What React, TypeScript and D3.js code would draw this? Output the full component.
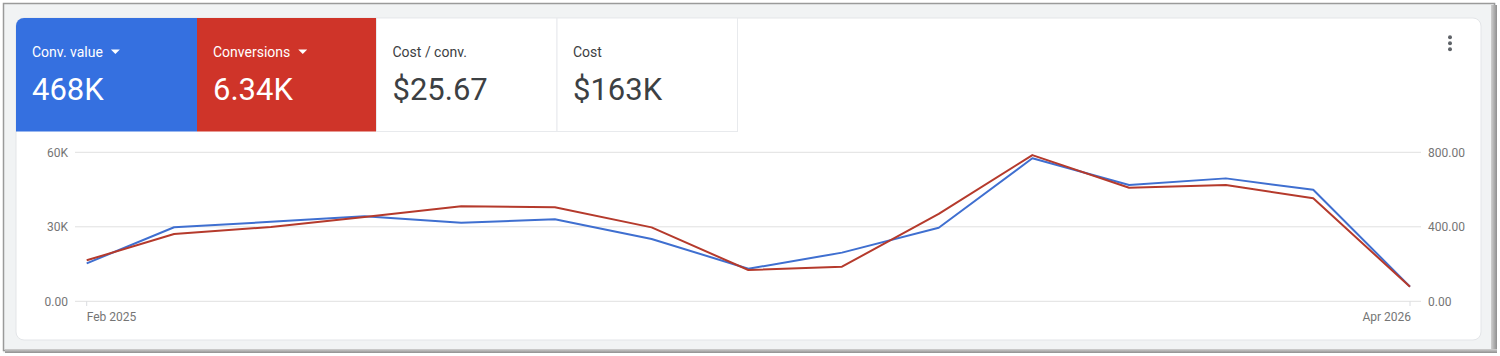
import React, { useLayoutEffect, useRef, useState } from "react";
import * as d3 from "d3";

const months = [
  "2025-02-01", "2025-03-01", "2025-04-01", "2025-05-01", "2025-06-01",
  "2025-07-01", "2025-08-01", "2025-09-01", "2025-10-01", "2025-11-01",
  "2025-12-01", "2026-01-01", "2026-02-01", "2026-03-01", "2026-04-01",
];
const convValue = [15.3, 29.8, 32.0, 34.2, 31.6, 33.0, 25.1, 13.1, 19.6, 29.6, 57.6, 46.8, 49.5, 44.9, 5.9];
const conversions = [220, 361, 399, 453, 510, 505, 397, 168, 186, 469, 785, 610, 624, 553, 78];
const leftTicks = [0, 30, 60];
const leftTickLabels = ["0.00", "30K", "60K"];
const rightTicks = [0, 400, 800];
const rightTickLabels = ["0.00", "400.00", "800.00"];
const xTickLabels = ["Feb 2025", "Apr 2026"];

const tileLabels = ["Conv. value", "Conversions", "Cost / conv.", "Cost"];
const tileValues = ["468K", "6.34K", "$25.67", "$163K"];
const tileBg = ["#3570e0", "#cf3429", "#ffffff", "#ffffff"];
const tileFg = ["#ffffff", "#ffffff", "#3c4043", "#3c4043"];
const tileArrow = [true, true, false, false];

const FONT = "Roboto, 'Noto Sans', sans-serif";

export default function App() {
  const dates = months.map((m) => new Date(m + "T00:00:00"));
  const x = d3.scaleTime().domain([dates[0], dates[dates.length - 1]]).range([86.7, 1410]);
  const yL = d3.scaleLinear().domain([0, 60]).range([301.3, 152.3]);
  const yR = d3.scaleLinear().domain([0, 800]).range([301.3, 152.3]);

  const blueLine = d3.line<number>().x((_, i) => x(dates[i])).y((d) => yL(d))(convValue) || "";
  const redLine = d3.line<number>().x((_, i) => x(dates[i])).y((d) => yR(d))(conversions) || "";

  const tileX = [16, 197, 376.5, 557, 737.5];

  const labelRefs = useRef<(SVGTextElement | null)[]>([]);
  const [widths, setWidths] = useState<number[]>([71, 77, 0, 0]);
  useLayoutEffect(() => {
    const w = labelRefs.current.map((el) => (el ? el.getComputedTextLength() : 0));
    setWidths(w);
  }, []);

  return (
    <div style={{ position: "absolute", left: 0, top: 0, width: 1500, height: 356 }}>
      <svg width={1500} height={356} style={{ display: "block", fontFamily: FONT }}>
        <defs>
          <clipPath id="cardClip">
            <rect x={16} y={18} width={1465} height={322} rx={8} />
          </clipPath>
          <linearGradient id="shadowR" x1="0" x2="1" y1="0" y2="0">
            <stop offset="0" stopColor="#d0d0d0" />
            <stop offset="1" stopColor="#8f8f8f" />
          </linearGradient>
          <linearGradient id="shadowB" x1="0" x2="0" y1="0" y2="1">
            <stop offset="0" stopColor="#d0d0d0" />
            <stop offset="1" stopColor="#8f8f8f" />
          </linearGradient>
        </defs>
        <rect x={0} y={0} width={1500} height={356} fill="#ffffff" />
        {/* outer screenshot frame */}
        <rect x={3} y={3} width={1493} height={350} fill="#f1f3f4" />
        <rect x={3.5} y={3.5} width={1491} height={347} fill="none" stroke="#9a9a9a" strokeWidth={1.5} />
        <rect x={1491} y={5} width={6} height={348} fill="url(#shadowR)" />
        <rect x={5} y={349} width={1492} height={4} fill="url(#shadowB)" />
        {/* card */}
        <rect x={16} y={18} width={1465} height={322} rx={8} fill="#ffffff" stroke="#e3e5e8" strokeWidth={1} />
        <g clipPath="url(#cardClip)">
          {tileLabels.map((label, i) => (
            <g key={label}>
              <rect
                x={tileX[i]}
                y={18}
                width={tileX[i + 1] - tileX[i]}
                height={113.5}
                fill={tileBg[i]}
                stroke={tileBg[i] === "#ffffff" ? "#e8eaed" : "none"}
                strokeWidth={1}
              />
              <text
                ref={(el) => {
                  labelRefs.current[i] = el;
                }}
                x={tileX[i] + 16}
                y={57}
                fontSize={14}
                fill={tileFg[i]}
              >
                {label}
              </text>
              <text x={tileX[i] + 16} y={100} fontSize={31} fill={tileFg[i]}>
                {tileValues[i]}
              </text>
              {tileArrow[i] && (
                <path d={`M${tileX[i] + 16 + widths[i] + 8},49.5 l9,0 l-4.5,4.5 z`} fill={tileFg[i]} />
              )}
            </g>
          ))}
        </g>
        {/* menu dots */}
        {[37.3, 43.3, 49.3].map((cy) => (
          <circle key={cy} cx={1450} cy={cy} r={2} fill="#5f6368" />
        ))}
        {/* gridlines */}
        {leftTicks.map((t) => (
          <line key={t} x1={75} x2={1421} y1={yL(t)} y2={yL(t)} stroke="#e0e0e0" strokeWidth={1} />
        ))}
        {leftTicks.map((t, i) => (
          <text key={"l" + t} x={68} y={yL(t)} dy="0.35em" textAnchor="end" fontSize={12} fill="#757575">
            {leftTickLabels[i]}
          </text>
        ))}
        {rightTicks.map((t, i) => (
          <text key={"r" + t} x={1428} y={yR(t)} dy="0.35em" textAnchor="start" fontSize={12} fill="#757575">
            {rightTickLabels[i]}
          </text>
        ))}
        {/* x ticks */}
        {[dates[0], dates[dates.length - 1]].map((d, i) => (
          <g key={i}>
            <line x1={x(d)} x2={x(d)} y1={301.3} y2={306} stroke="#dadce0" strokeWidth={1} />
            <text
              x={i === 0 ? x(d) : x(d) + 1}
              y={321}
              textAnchor={i === 0 ? "start" : "end"}
              fontSize={12}
              fill="#757575"
            >
              {xTickLabels[i]}
            </text>
          </g>
        ))}
        {/* lines */}
        <path d={blueLine} fill="none" stroke="#3f6fd0" strokeWidth={2} strokeLinejoin="round" />
        <path d={redLine} fill="none" stroke="#b53a2c" strokeWidth={2} strokeLinejoin="round" />
      </svg>
    </div>
  );
}
